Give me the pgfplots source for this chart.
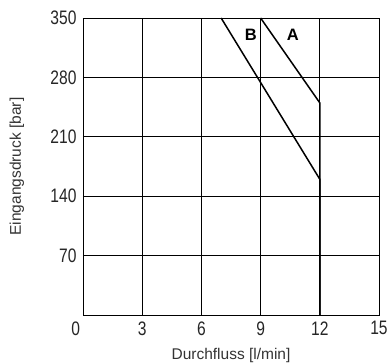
\documentclass[border=0pt]{standalone}
\usepackage{fontspec}
\setmainfont{Liberation Sans}
\newfontfamily\tickfont[FakeStretch=0.8]{Liberation Sans}
\usepackage{pgfplots}
\pgfplotsset{compat=1.18}
\usetikzlibrary{calc}
\begin{document}
\begin{tikzpicture}
\begin{axis}[
  scale only axis, width=296bp, height=297bp,
  xmin=0, xmax=15, ymin=0, ymax=350,
  xtick={0,3,6,9,12,15},
  xticklabels={\makebox[0pt][r]{0\hspace{3bp}},3,6,9,12,15},
  ytick={70,140,210,280,350},
  grid=major,
  major grid style={black, line width=0.8bp},
  axis line style={black, line width=0.8bp},
  major tick length=0pt,
  /pgf/number format/assume math mode=true,
  tick label style={font=\fontsize{19.5bp}{19.5bp}\selectfont\tickfont, text=black!85},
  xticklabel style={yshift=-3bp},
  yticklabel style={xshift=-3bp},
  xlabel={Durchfluss [l/min]},
  ylabel={Eingangsdruck [bar]},
  label style={font=\fontsize{15.5bp}{15.5bp}\selectfont, text=black!80},
  xlabel style={at={(axis description cs:0.5,-0.1347)}, anchor=center},
  ylabel style={at={(axis description cs:-0.223,0.5)}, anchor=center},
]
\addplot[black, line width=1.5bp, line join=miter] coordinates {(9,350) (12,250) (12,0)};
\addplot[black, line width=1.5bp, line join=miter] coordinates {(7,350) (12,160) (12,0)};
\node[font=\fontsize{16.5bp}{16.5bp}\selectfont\bfseries] at (axis cs:8.5,330) {B};
\node[font=\fontsize{16.5bp}{16.5bp}\selectfont\bfseries] at (axis cs:10.63,330) {A};
\coordinate (sw) at (rel axis cs:0,0);
\coordinate (ne) at (rel axis cs:1,1);
\end{axis}
\pgfresetboundingbox
\path[use as bounding box] ($(sw)+(-83bp,-48bp)$) rectangle ($(ne)+(9bp,18bp)$);
\end{tikzpicture}
\end{document}
